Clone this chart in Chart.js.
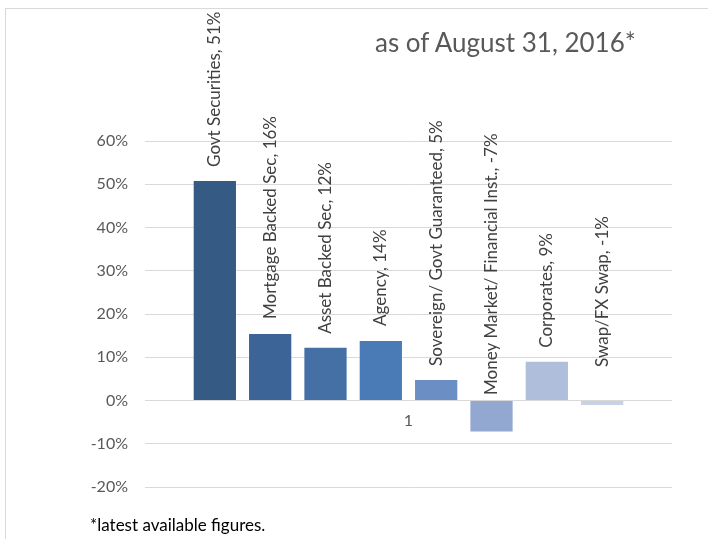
<!DOCTYPE html>
<html>
<head>
<meta charset="utf-8">
<script src="https://cdn.jsdelivr.net/npm/chart.js@4.4.0/dist/chart.umd.min.js"></script>
<style>
  html, body { margin: 0; padding: 0; background: #fff; }
  #wrap { position: relative; width: 708px; height: 539px; overflow: hidden; }
  #frame { position: absolute; left: 5px; top: 8px; width: 760px; height: 600px;
           border-left: 1px solid #d9d9d9; border-top: 1px solid #d9d9d9; }
  #title { position: absolute; left: 375px; top: 26px; font: 26px Lato, sans-serif; color: #595959; white-space: nowrap; }
  #note { position: absolute; left: 90px; top: 514px; font: 17px Lato, sans-serif; color: #000; white-space: nowrap; }
  canvas { position: absolute; left: 0; top: 0; }
</style>
</head>
<body>
<div id="wrap">
  <div id="frame"></div>
  <canvas id="chart" width="708" height="539"></canvas>
  <div id="title">as of August 31, 2016*</div>
  <div id="note">*latest available figures.</div>
</div>
<script>
// 数据
const categories = ['1'];
const seriesNames = ['Govt Securities', 'Mortgage Backed Sec', 'Asset Backed Sec', 'Agency',
  'Sovereign/ Govt Guaranteed', 'Money Market/ Financial Inst.', 'Corporates', 'Swap/FX Swap'];
const seriesValues = [51, 15.6, 12.4, 14.0, 5.0, -7.4, 9.2, -1.3];
const yTicks = [-20, -10, 0, 10, 20, 30, 40, 50, 60];

const colors = ['#355A84', '#3D6496', '#4470A6', '#4A7BB7', '#6B8FC4', '#93A8D0', '#AFBEDB', '#C8D1E6'];
const labelOffsets = [13, 14, 13, 14, 13, 6, 13, 34];

// 柱子上方的竖排标签
const barLabels = {
  id: 'barLabels',
  afterDatasetsDraw(chart) {
    const ctx = chart.ctx;
    ctx.save();
    ctx.font = '17px Lato, sans-serif';
    ctx.fillStyle = '#404040';
    ctx.textAlign = 'left';
    ctx.textBaseline = 'middle';
    chart.data.datasets.forEach((ds, i) => {
      const bar = chart.getDatasetMeta(i).data[0];
      const top = Math.min(bar.y, bar.base) - labelOffsets[i];
      ctx.save();
      ctx.translate(bar.x, top);
      ctx.rotate(-Math.PI / 2);
      ctx.fillText(ds.label + ', ' + Math.round(ds.data[0]) + '%', 0, 0);
      ctx.restore();
    });
    ctx.restore();
  }
};

new Chart(document.getElementById('chart'), {
  type: 'bar',
  data: {
    labels: categories,
    datasets: seriesNames.map((name, i) => ({
      label: name,
      data: [seriesValues[i]],
      backgroundColor: colors[i],
      borderColor: 'rgba(255,255,255,0.35)',
      borderWidth: 1
    }))
  },
  options: {
    responsive: false,
    animation: false,
    categoryPercentage: 0.84,
    barPercentage: 0.8,
    layout: { padding: { top: 141, bottom: 52, left: 0, right: 36 } },
    plugins: {
      legend: { display: false },
      tooltip: { enabled: false }
    },
    scales: {
      x: {
        position: { y: 0 },
        grid: { display: false },
        border: { display: false },
        ticks: { color: '#595959', font: { family: 'Lato', size: 16 }, padding: 3 }
      },
      y: {
        min: -20,
        max: 60,
        afterFit(scale) { scale.width = 145; },
        afterBuildTicks(scale) { scale.ticks = yTicks.map(v => ({ value: v })); },
        grid: { color: '#d9d9d9', lineWidth: 1, drawTicks: false },
        border: { display: false },
        ticks: {
          color: '#595959',
          font: { family: 'Lato', size: 16 },
          padding: 17,
          callback: v => v + '%'
        }
      }
    }
  },
  plugins: [barLabels]
});
</script>
</body>
</html>
